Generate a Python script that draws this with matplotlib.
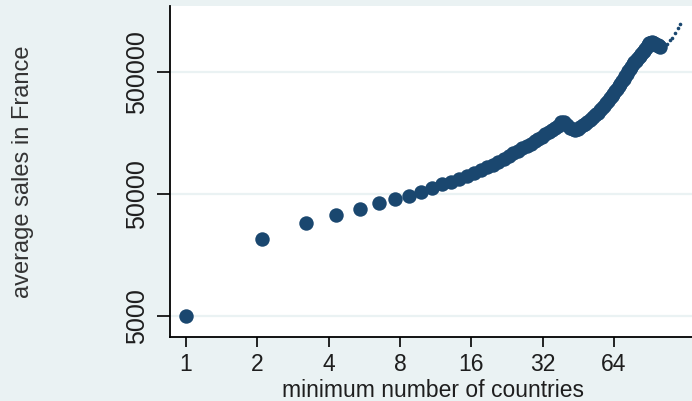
import matplotlib.pyplot as plt
import matplotlib.ticker as mticker

# minimum number of countries (as placed on the log2 axis) and average sales in France
countries = [1.0, 2.1, 3.2, 4.3, 5.4, 6.5, 7.6, 8.7, 9.8, 10.9,
             12.0, 13.1, 14.2, 15.3, 16.4, 17.5, 18.6, 19.7, 20.8, 21.9,
             23.0, 24.1, 25.2, 26.3, 27.4, 28.5, 29.6, 30.7, 31.8, 32.9,
             34.0, 35.1, 36.2, 37.3, 38.4, 39.5, 40.6, 41.7, 42.8, 43.9,
             45.0, 46.1, 47.2, 48.3, 49.4, 50.5, 51.6, 52.7, 53.8, 54.9,
             56.0, 57.1, 58.2, 59.3, 60.4, 61.5, 62.6, 63.7, 64.8, 65.9,
             67.0, 68.1, 69.2, 70.3, 71.4, 72.5, 73.6, 74.7, 75.8, 76.9,
             78.0, 79.1, 80.2, 81.3, 82.4, 83.5, 84.6, 85.7, 86.8, 87.9,
             89.0, 90.1, 91.2, 92.3, 93.4, 94.5, 95.6, 96.7, 97.8, 98.9, 100.0]
sales = [5000, 21300, 28800, 33500, 37500, 42000, 45300, 48000, 51700, 55800,
         59700, 62800, 65800, 69400, 73700, 77900, 82100, 86200, 90500, 96000,
         101000, 107000, 112000, 118000, 123000, 129000, 135000, 141000, 147000, 154000,
         160000, 166000, 173000, 181000, 194000, 195000, 183000, 173000, 170000, 166000,
         171000, 176000, 182000, 188000, 195000, 202000, 209000, 217000, 224000, 231000,
         241000, 252000, 264000, 276000, 289000, 303000, 317000, 331000, 345000, 360000,
         379000, 398000, 417000, 437000, 459000, 481000, 503000, 526000, 550000, 575000,
         595000, 615000, 634000, 654000, 676000, 698000, 719000, 741000, 765000, 789000,
         825000, 860000, 865000, 870000, 860000, 850000, 840000, 830000, 820000, 810000, 790000]

# sparse tail of tiny marks at the top right
tail_countries = [103.1, 105.0, 107.1, 110.0, 112.5, 115.8, 119.2, 121.6]
tail_sales = [780000, 815000, 841000, 900000, 942000, 1035000, 1137000, 1226000]

xticks = [1, 2, 4, 8, 16, 32, 64]
yticks = [5000, 50000, 500000]

bg = '#EAF2F3'
navy = '#1A476F'
txt = '#1E1E1E'

plt.rcParams['font.family'] = ['Liberation Sans', 'DejaVu Sans']

fig = plt.figure(figsize=(6.92, 4.01), dpi=100, facecolor=bg)
ax = fig.add_axes([170 / 692, 64 / 401, 530 / 692, 331 / 401])
ax.set_facecolor('white')

ax.set_xscale('log', base=2)
ax.set_yscale('log')
ax.set_xlim(0.856, 147.7)
ax.set_ylim(3365, 1.722e6)

for y in yticks:
    ax.axhline(y, color=bg, lw=1.6, zorder=1)

ax.plot(countries, sales, 'o', color=navy, markersize=10.4, markeredgewidth=0, zorder=3)
ax.plot(tail_countries, tail_sales, 'o', color=navy, markersize=2.6, markeredgewidth=0, zorder=3)

ax.xaxis.set_major_locator(mticker.FixedLocator(xticks))
ax.xaxis.set_major_formatter(mticker.FixedFormatter([str(v) for v in xticks]))
ax.xaxis.set_minor_locator(mticker.NullLocator())
ax.yaxis.set_major_locator(mticker.FixedLocator(yticks))
ax.yaxis.set_major_formatter(mticker.FixedFormatter([str(v) for v in yticks]))
ax.yaxis.set_minor_locator(mticker.NullLocator())

ax.tick_params(axis='x', length=7.5, width=1.2, pad=4, labelsize=16.5, labelcolor=txt)
ax.tick_params(axis='y', length=9.4, width=1.2, pad=6, labelsize=18, labelcolor=txt)
for lab in ax.get_yticklabels():
    lab.set_rotation(90)
    lab.set_va('center')

for s in ['top', 'right']:
    ax.spines[s].set_visible(False)
for s in ['left', 'bottom']:
    ax.spines[s].set_linewidth(1.3)

fig.text(433 / 692, 1 - 397 / 401, 'minimum number of countries', ha='center',
         va='baseline', fontsize=16.5, color=txt)
fig.text(23 / 692, 1 - 171.5 / 401, 'average sales in France', rotation=90,
         ha='center', va='center', fontsize=17, color='#333333')

fig.savefig('out.png', dpi=100, facecolor=bg)
